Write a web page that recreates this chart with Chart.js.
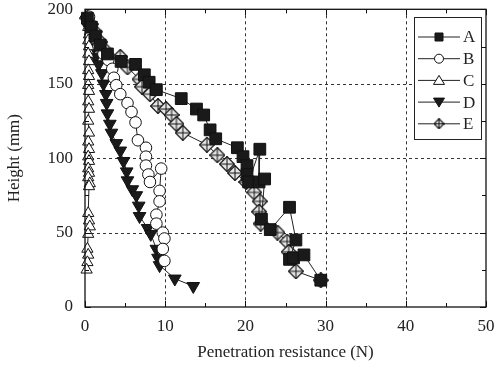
<!DOCTYPE html>
<html>
<head>
<meta charset="utf-8">
<script src="https://cdn.jsdelivr.net/npm/chart.js"></script>
<style>
  html, body { margin: 0; padding: 0; background: #fff; }
  #wrap { width: 502px; height: 367px; }
</style>
</head>
<body>
<div id="wrap"><canvas id="myChart" width="502" height="367"></canvas></div>
<script>
// series: [x = resistance (N), y = height (mm)]
var seriesA = [[0.3,194],[0.8,188],[1.3,182],[1.9,176],[2.8,170],[4.5,165],[6.3,163],[7.4,156],[8.0,151],[8.9,146],[12.0,140],[13.9,133],[14.8,129],[15.6,119],[16.3,113],[19.0,107],[19.7,101],[20.2,95],[20.2,89],[20.4,84],[21.8,106],[21.7,84],[22.4,86],[22.0,59],[23.1,52],[25.5,67],[26.3,45],[25.5,32],[26.0,33],[27.3,35],[29.4,18]];
var seriesB = [[0.5,195],[0.7,188],[1.2,181],[1.7,175],[2.3,170],[2.9,166],[3.4,160],[3.6,154],[3.9,149],[4.4,143],[5.3,137],[5.8,131],[6.3,124],[6.6,112],[7.6,107],[7.6,101],[7.6,95],[7.9,89],[8.1,84],[9.5,93],[9.3,78],[9.3,71],[8.9,62],[8.9,56],[9.7,50],[9.9,46],[9.7,39],[9.9,31]];
var seriesC = [[0.3,193],[0.4,188],[0.5,183],[0.4,179],[0.5,175],[0.4,170],[0.5,165],[0.4,159],[0.5,155],[0.4,149],[0.5,145],[0.4,138],[0.5,133],[0.4,125],[0.5,117],[0.4,111],[0.5,106],[0.4,101],[0.5,98],[0.4,93],[0.5,90],[0.4,87],[0.6,83],[0.5,81],[0.4,63],[0.5,58],[0.6,54],[0.4,49],[0.3,39],[0.4,35],[0.3,30],[0.2,25]];
var seriesD = [[0.2,193],[0.4,188],[0.7,181],[1.1,175],[1.3,168],[1.7,163],[2.1,157],[2.3,150],[2.6,143],[2.7,137],[2.8,130],[3.1,123],[3.3,117],[3.9,110],[4.4,105],[4.8,98],[5.2,91],[5.3,85],[5.9,79],[6.4,75],[6.7,68],[6.8,61],[7.8,53],[8.2,49],[8.9,39],[9.1,33],[9.3,28],[11.2,19],[13.5,14]];
var seriesE = [[0.3,194],[0.7,190],[1.2,185],[1.9,178],[2.4,173],[4.4,168],[5.3,161],[6.8,153],[7.1,148],[8.1,143],[9.1,135],[10.1,133],[10.8,129],[11.4,123],[12.2,117],[15.2,109],[16.5,102],[17.7,96],[18.7,90],[20.1,84],[21.1,77],[21.8,71],[21.7,64],[21.9,56],[24.0,50],[25.2,44],[25.4,37],[26.3,24],[29.4,18]];
var labels = ['A', 'B', 'C', 'D', 'E'];
var xTicks = [0, 10, 20, 30, 40, 50];
var yTicks = [0, 50, 100, 150, 200];
var xTitle = 'Penetration resistance (N)';
var yTitle = 'Height (mm)';

var FONT = '"Liberation Serif", "Times New Roman", serif';

// diamond with a cross for E
function makeDiamond(s) {
  var c = document.createElement('canvas');
  c.width = s; c.height = s;
  var g = c.getContext('2d');
  var m = s / 2;
  g.beginPath();
  g.moveTo(m, 0.5); g.lineTo(s - 0.5, m); g.lineTo(m, s - 0.5); g.lineTo(0.5, m); g.closePath();
  g.fillStyle = '#e6e6e6'; g.fill();
  g.strokeStyle = '#111'; g.lineWidth = 1.2; g.stroke();
  g.beginPath();
  g.moveTo(m, 0.5); g.lineTo(m, s - 0.5);
  g.moveTo(0.5, m); g.lineTo(s - 0.5, m);
  g.lineWidth = 1; g.stroke();
  return c;
}
var diamondImg = makeDiamond(16);
var diamondSmall = makeDiamond(11);

function toXY(arr) {
  return arr.map(function (p) { return { x: p[0], y: p[1] }; });
}

function ds(label, arr, style, fill, radius, rot) {
  return {
    label: label,
    data: toXY(arr),
    showLine: true,
    borderColor: '#222',
    borderWidth: 1,
    pointStyle: style,
    pointRotation: rot || 0,
    pointRadius: radius,
    pointBackgroundColor: fill,
    pointBorderColor: '#111',
    pointBorderWidth: 1,
    clip: false
  };
}

var frame = {
  id: 'frame',
  beforeDatasetsDraw: function (chart) {
    var ctx = chart.ctx, a = chart.chartArea;
    var xs = chart.scales.x, ys = chart.scales.y;
    ctx.save();
    ctx.strokeStyle = '#333';
    ctx.lineWidth = 1;
    ctx.setLineDash([3, 3]);
    xTicks.slice(1, -1).forEach(function (v) {
      var px = Math.round(xs.getPixelForValue(v)) + 0.5;
      ctx.beginPath(); ctx.moveTo(px, a.top); ctx.lineTo(px, a.bottom); ctx.stroke();
    });
    yTicks.slice(1, -1).forEach(function (v) {
      var py = Math.round(ys.getPixelForValue(v)) + 0.5;
      ctx.beginPath(); ctx.moveTo(a.left, py); ctx.lineTo(a.right, py); ctx.stroke();
    });
    ctx.restore();
  },
  afterDatasetsDraw: function (chart) {
    var ctx = chart.ctx, a = chart.chartArea;
    var xs = chart.scales.x, ys = chart.scales.y;
    ctx.save();
    ctx.strokeStyle = '#111';
    ctx.lineWidth = 1.3;
    ctx.strokeRect(a.left, a.top, a.right - a.left, a.bottom - a.top);
    ctx.lineWidth = 1;
    for (var v = 0; v <= 50; v += 5) {
      var len = (v % 10 === 0) ? 6 : 4;
      var px = Math.round(xs.getPixelForValue(v)) + 0.5;
      ctx.beginPath();
      ctx.moveTo(px, a.bottom); ctx.lineTo(px, a.bottom - len);
      ctx.moveTo(px, a.top); ctx.lineTo(px, a.top + len);
      ctx.stroke();
    }
    for (var w = 0; w <= 200; w += 25) {
      var l2 = (w % 50 === 0) ? 6 : 4;
      var py = Math.round(ys.getPixelForValue(w)) + 0.5;
      ctx.beginPath();
      ctx.moveTo(a.left, py); ctx.lineTo(a.left + l2, py);
      ctx.moveTo(a.right, py); ctx.lineTo(a.right - l2, py);
      ctx.stroke();
    }
    ctx.restore();
  },
  afterDraw: function (chart) {
    // legend box with line + marker samples
    var ctx = chart.ctx;
    var bx = 414, by = 17, bw = 67, bh = 122;
    ctx.save();
    ctx.fillStyle = '#fff';
    ctx.fillRect(bx, by, bw, bh);
    ctx.strokeStyle = '#222';
    ctx.lineWidth = 1;
    ctx.strokeRect(bx + 0.5, by + 0.5, bw, bh);
    ctx.font = '17px ' + FONT;
    ctx.textBaseline = 'middle';
    ctx.textAlign = 'left';
    chart.data.datasets.forEach(function (d, i) {
      var y = 37 + i * 21.7;
      var cx = 439;
      ctx.strokeStyle = '#222';
      ctx.beginPath(); ctx.moveTo(418, y); ctx.lineTo(460, y); ctx.stroke();
      ctx.fillStyle = d.pointBackgroundColor;
      ctx.strokeStyle = '#111';
      ctx.beginPath();
      if (i === 0) {
        ctx.rect(cx - 4, y - 4, 8, 8); ctx.fill(); ctx.stroke();
      } else if (i === 1) {
        ctx.arc(cx, y, 4.5, 0, Math.PI * 2); ctx.fill(); ctx.stroke();
      } else if (i === 2) {
        ctx.moveTo(cx, y - 5); ctx.lineTo(cx + 5.5, y + 4); ctx.lineTo(cx - 5.5, y + 4); ctx.closePath(); ctx.fill(); ctx.stroke();
      } else if (i === 3) {
        ctx.moveTo(cx, y + 5); ctx.lineTo(cx + 5.5, y - 4); ctx.lineTo(cx - 5.5, y - 4); ctx.closePath(); ctx.fill(); ctx.stroke();
      } else {
        ctx.drawImage(diamondSmall, cx - 5.5, y - 5.5);
      }
      ctx.fillStyle = '#222';
      ctx.fillText(d.label, 463, y + 1);
    });
    ctx.restore();
  }
};

window.addEventListener('DOMContentLoaded', function () {
  var ctx = document.getElementById('myChart').getContext('2d');
  var chart = new Chart(ctx, {
    type: 'scatter',
    data: {
      datasets: [
        ds(labels[0], seriesA, 'rect', '#1a1a1a', 8.3),
        ds(labels[1], seriesB, 'circle', '#fff', 5.8),
        ds(labels[2], seriesC, 'triangle', '#fff', 6.5),
        ds(labels[3], seriesD, 'triangle', '#1a1a1a', 7.3, 180),
        ds(labels[4], seriesE, diamondImg, '#e6e6e6', 8)
      ]
    },
    options: {
      responsive: false,
      animation: false,
      layout: { padding: { top: 7, right: 16, left: 0, bottom: 0 } },
      plugins: { legend: { display: false }, tooltip: { enabled: false } },
      scales: {
        x: {
          type: 'linear', min: 0, max: 50,
          afterBuildTicks: function (s) { s.ticks = xTicks.map(function (v) { return { value: v }; }); },
          afterFit: function (s) { s.height = 60; s.paddingLeft = 0; s.paddingRight = 0; },
          grid: { display: false, drawTicks: false },
          border: { display: false },
          ticks: { color: '#222', padding: 9, font: { family: FONT, size: 17 } },
          title: { display: true, text: xTitle, color: '#222', padding: { top: 4 }, font: { family: FONT, size: 17 } }
        },
        y: {
          type: 'linear', min: 0, max: 200,
          afterBuildTicks: function (s) { s.ticks = yTicks.map(function (v) { return { value: v }; }); },
          afterFit: function (s) { s.width = 85; s.paddingTop = 0; s.paddingBottom = 0; },
          grid: { display: false, drawTicks: false },
          border: { display: false },
          ticks: { color: '#222', padding: 12, font: { family: FONT, size: 17 } },
          title: { display: true, text: yTitle, color: '#222', padding: { bottom: 6 }, font: { family: FONT, size: 17 } }
        }
      }
    },
    plugins: [frame]
  });
});
</script>
</body>
</html>
